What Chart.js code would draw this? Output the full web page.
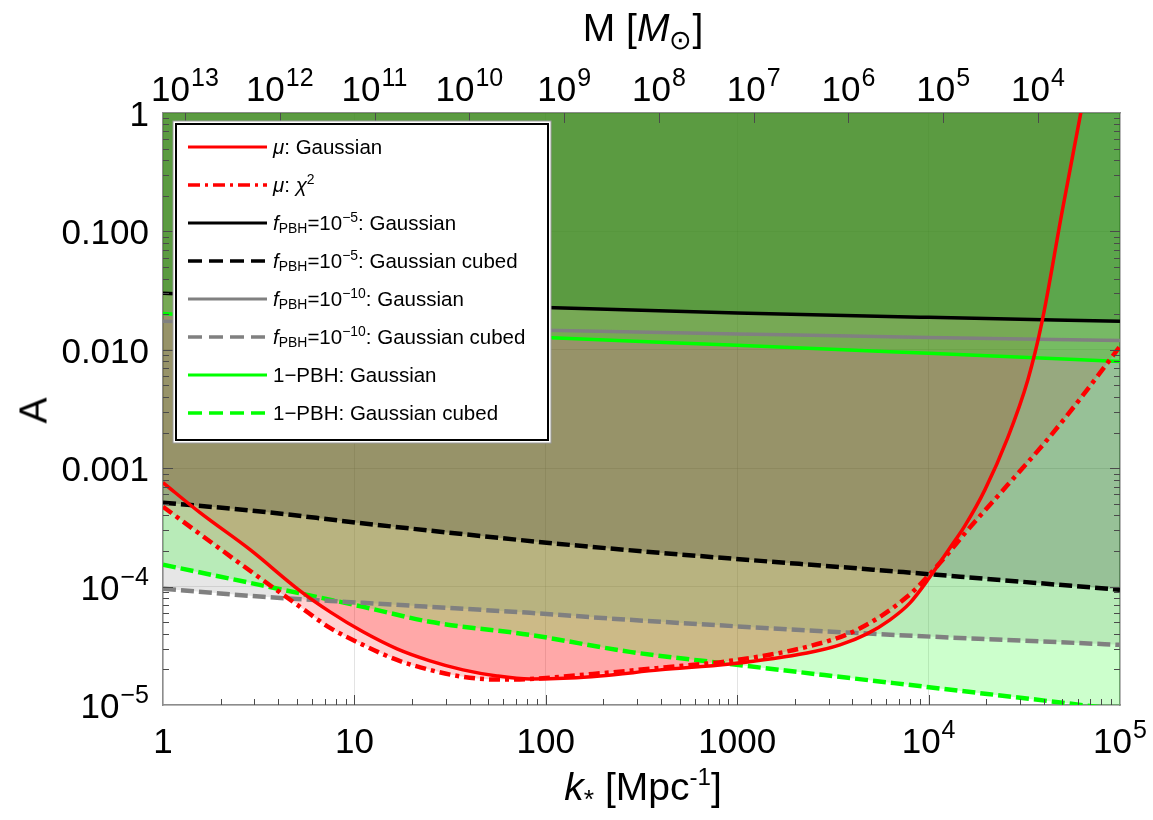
<!DOCTYPE html>
<html><head><meta charset="utf-8">
<script src="https://cdn.jsdelivr.net/npm/chart.js@4.4.1/dist/chart.umd.min.js"></script>
<style>
html,body{margin:0;padding:0;background:#fff;}
#wrap{position:relative;width:1153px;height:820px;overflow:hidden;font-family:"Liberation Sans",Arial,sans-serif;color:#000;}
#c{position:absolute;left:0;top:0;}
.ttl{position:absolute;font-size:39px;line-height:39px;white-space:nowrap;}
.ttl sub{font-size:0.68em;vertical-align:-0.3em;line-height:0;}
.ttl sup{font-size:0.62em;vertical-align:0.62em;line-height:0;}
#legend{position:absolute;left:175px;top:123px;width:374px;height:318px;box-sizing:border-box;background:#fff;border:2.5px solid #000;box-shadow:0 0 0 1.5px #fff,0 0 0 2.5px #9a9a9a;}
.row{position:absolute;left:0;height:24px;width:365px;}
.row svg{position:absolute;left:11px;top:9px;}
.row span{position:absolute;left:96px;top:0;font-size:20.5px;line-height:24px;white-space:nowrap;}
.row sub{font-size:0.68em;vertical-align:-0.25em;line-height:0;}
.row sup{font-size:0.68em;vertical-align:0.55em;line-height:0;}
</style></head>
<body>
<div id="wrap">
<canvas id="c" width="1153" height="820"></canvas>
<div class="ttl" id="tTop" style="left:643px;top:8px;transform:translateX(-50%);">M [<i>M</i><sub>⊙</sub>]</div>
<div class="ttl" id="tBot" style="left:643px;top:767px;transform:translateX(-50%);"><i>k</i><sub>*</sub> [Mpc<sup>-1</sup>]</div>
<div class="ttl" id="tLeft" style="left:19px;top:391px;width:28px;text-align:center;transform:rotate(-90deg);">A</div>
<div id="legend"></div>
</div>
<script>
// ---------------- data ----------------
const kTicks = [1, 10, 100, 1000, 1e4, 1e5];
const kTickLabels = ['1', '10', '100', '1000', '10^4', '10^5'];
const aTicks = [1e-5, 1e-4, 1e-3, 1e-2, 1e-1, 1];
const aTickLabels = ['10^\u22125', '10^\u22124', '0.001', '0.010', '0.100', '1'];
const mTicks = [1e13, 1e12, 1e11, 1e10, 1e9, 1e8, 1e7, 1e6, 1e5, 1e4];
const mTickLabels = ['10^13', '10^12', '10^11', '10^10', '10^9', '10^8', '10^7', '10^6', '10^5', '10^4'];
const mRange = [1365, 1.706e13];   // M at k = 1e5 and at k = 1

// mu distortion, Gaussian
const kMuGauss = [1, 1.561, 2.85, 5.20, 7.46, 11.09, 16.70, 24.83, 36.93, 55.6, 82.7, 133.8, 192, 395, 917, 2317, 3444, 4765, 6285, 7998, 10170, 12940, 15490, 19710, 25700, 33050, 39100, 49770, 62520, 70000];
const aMuGauss = [7.55e-4, 4.21e-4, 2.05e-4, 9.21e-5, 6.12e-5, 4.15e-5, 2.98e-5, 2.36e-5, 1.98e-5, 1.76e-5, 1.66e-5, 1.69e-5, 1.76e-5, 1.98e-5, 2.22e-5, 2.75e-5, 3.22e-5, 3.99e-5, 5.24e-5, 7.29e-5, 1.21e-4, 2.13e-4, 3.27e-4, 6.59e-4, 1.75e-3, 5.62e-3, 0.0171, 0.145, 1.02, 2.7];
// mu distortion, chi^2
const kMuChi2 = [1, 2.62, 5.20, 7.46, 11.09, 16.70, 24.83, 36.93, 55.6, 82.7, 176.5, 395, 917, 2317, 4227, 7710, 11480, 16070, 25700, 40570, 63270, 100000];
const aMuChi2 = [4.73e-4, 1.50e-4, 6.75e-5, 4.48e-5, 3.22e-5, 2.40e-5, 1.98e-5, 1.73e-5, 1.64e-5, 1.66e-5, 1.83e-5, 2.06e-5, 2.36e-5, 3.10e-5, 4.31e-5, 8.20e-5, 1.59e-4, 3.03e-4, 7.13e-4, 1.65e-3, 4.03e-3, 0.0107];
// solid PBH lines
const kSolid = [1, 10, 100, 1000, 1e4, 1e5];
const aF5Gauss = [0.0300, 0.0259, 0.0228, 0.0205, 0.0188, 0.0174];
const aF10Gauss = [0.0174, 0.0159, 0.0146, 0.0136, 0.0127, 0.0120];
const aOneGauss = [0.0203, 0.0158, 0.0127, 0.0109, 0.00933, 0.00798];
// dashed PBH lines (Gaussian cubed)
const kF5Cubed = [1, 3.33, 10.3, 101, 395, 5130, 1e5];
const aF5Cubed = [5.12e-4, 4.29e-4, 3.47e-4, 2.35e-4, 1.93e-4, 1.39e-4, 9.4e-5];
const kF10Cubed = [1, 3.33, 11.1, 82.7, 275, 5130, 1e5];
const aF10Cubed = [9.58e-5, 8.20e-5, 7.29e-5, 6.0e-5, 5.24e-5, 3.99e-5, 3.22e-5];
const kOneCubed = [1, 3.33, 11.1, 24.8, 82.7, 275, 917, 9800, 69700, 1e5];
const aOneCubed = [1.53e-4, 1.02e-4, 6.75e-5, 5.04e-5, 3.91e-5, 2.81e-5, 2.22e-5, 1.42e-5, 9.8e-6, 9.1e-6];

const legendLabels = [
  '<i>μ</i>: Gaussian',
  '<i>μ</i>: <i>χ</i><sup>2</sup>',
  '<i>f</i><sub>PBH</sub>=10<sup>−5</sup>: Gaussian',
  '<i>f</i><sub>PBH</sub>=10<sup>−5</sup>: Gaussian cubed',
  '<i>f</i><sub>PBH</sub>=10<sup>−10</sup>: Gaussian',
  '<i>f</i><sub>PBH</sub>=10<sup>−10</sup>: Gaussian cubed',
  '1−PBH: Gaussian',
  '1−PBH: Gaussian cubed'
];

// ---------------- helpers ----------------
const pts = (ks, as) => ks.map((k, i) => ({x: k, y: as[i]}));
const RED = '#ff0000', BLK = '#000000', GRY = '#808080', GRN = '#00ff00';
const DASH = [13, 5], DASHDOT = [11, 5, 4, 5];

function lineDS(label, data, color, width, dash) {
  return {label, data, borderColor: color, borderWidth: width, borderDash: dash || [], fill: false,
          pointRadius: 0, cubicInterpolationMode: 'monotone'};
}
function fillDS(data, color) {
  return {label: '', data, borderColor: 'rgba(0,0,0,0)', borderWidth: 0, backgroundColor: color,
          fill: 'end', pointRadius: 0, cubicInterpolationMode: 'monotone'};
}

const datasets = [
  // lines (index 0 drawn on top)
  lineDS('μ: Gaussian', pts(kMuGauss, aMuGauss), RED, 3.5),
  lineDS('μ: χ2', pts(kMuChi2, aMuChi2), RED, 4.5, DASHDOT),
  lineDS('fPBH=1e-5: Gaussian', pts(kSolid, aF5Gauss), BLK, 3.5),
  lineDS('fPBH=1e-5: Gaussian cubed', pts(kF5Cubed, aF5Cubed), BLK, 4.5, DASH),
  lineDS('fPBH=1e-10: Gaussian', pts(kSolid, aF10Gauss), GRY, 3.5),
  lineDS('fPBH=1e-10: Gaussian cubed', pts(kF10Cubed, aF10Cubed), GRY, 4.5, DASH),
  lineDS('1-PBH: Gaussian', pts(kSolid, aOneGauss), GRN, 3.5),
  lineDS('1-PBH: Gaussian cubed', pts(kOneCubed, aOneCubed), GRN, 4.5, DASH),
  // excluded regions (lower index = painted later)
  fillDS(pts(kSolid, aF5Gauss), 'rgba(40,130,30,0.35)'),
  fillDS(pts(kSolid, aF10Gauss), 'rgba(128,128,128,0.06)'),
  fillDS(pts(kSolid, aOneGauss), 'rgba(0,255,0,0.22)'),
  fillDS(pts(kF5Cubed, aF5Cubed), 'rgba(0,0,0,0.18)'),
  fillDS(pts(kOneCubed, aOneCubed), 'rgba(0,255,0,0.2)'),
  fillDS(pts(kF10Cubed, aF10Cubed), 'rgba(128,128,128,0.2)'),
  fillDS(pts(kMuGauss, aMuGauss), 'rgba(255,0,0,0.2)'),
  fillDS(pts(kMuChi2, aMuChi2), 'rgba(255,0,0,0.18)')
];

// ---------------- axis decoration plugin ----------------
const FONT = '"Liberation Sans", Arial, sans-serif';
const BASE_PX = 35, EXP_PX = 25, EXP_RISE = 15;
function drawPow(ctx, label, x, y, align) {
  const parts = label.split('^');
  const base = parts[0], exp = parts[1];
  ctx.font = BASE_PX + 'px ' + FONT;
  const wb = ctx.measureText(base).width;
  let we = 0;
  if (exp) { ctx.font = EXP_PX + 'px ' + FONT; we = ctx.measureText(exp).width + 1; }
  const x0 = align === 'center' ? x - (wb + we) / 2 : x - (wb + we);
  ctx.textAlign = 'left'; ctx.textBaseline = 'alphabetic'; ctx.fillStyle = '#000';
  ctx.font = BASE_PX + 'px ' + FONT; ctx.fillText(base, x0, y);
  if (exp) { ctx.font = EXP_PX + 'px ' + FONT; ctx.fillText(exp, x0 + wb + 1, y - EXP_RISE); }
}
const axisDecor = {
  id: 'axisDecor',
  afterDraw(chart) {
    const ctx = chart.ctx, a = chart.chartArea;
    const sx = chart.scales.x, sy = chart.scales.y, sm = chart.scales.x2;
    ctx.save();
    // inner tick marks
    ctx.strokeStyle = '#4a4a4a'; ctx.lineWidth = 1;
    ctx.beginPath();
    for (let d = 0; d < 5; d++) {
      for (let m = 1; m < 10; m++) {
        const v = m * Math.pow(10, d);
        const px = Math.round(sx.getPixelForValue(v)) + 0.5;
        const len = m === 1 ? 10 : 6;
        if (m > 1 || d > 0) { ctx.moveTo(px, a.bottom); ctx.lineTo(px, a.bottom - len); }
      }
    }
    for (let d = -5; d < 0; d++) {
      for (let m = 1; m < 10; m++) {
        const v = m * Math.pow(10, d);
        const py = Math.round(sy.getPixelForValue(v)) + 0.5;
        const len = m === 1 ? 10 : 6;
        if (m > 1 || d > -5) {
          ctx.moveTo(a.left, py); ctx.lineTo(a.left + len, py);
          ctx.moveTo(a.right, py); ctx.lineTo(a.right - len, py);
        }
      }
    }
    mTicks.forEach(v => {
      const px = Math.round(sm.getPixelForValue(v)) + 0.5;
      ctx.moveTo(px, a.top); ctx.lineTo(px, a.top + 10);
    });
    ctx.stroke();
    // tick labels
    kTicks.forEach((v, i) => drawPow(ctx, kTickLabels[i], sx.getPixelForValue(v), a.bottom + 48, 'center'));
    aTicks.forEach((v, i) => drawPow(ctx, aTickLabels[i], a.left - 14, sy.getPixelForValue(v) + 13, 'right'));
    mTicks.forEach((v, i) => drawPow(ctx, mTickLabels[i], sm.getPixelForValue(v), a.top - 12, 'center'));
    ctx.restore();
  }
};

const gridCol = 'rgba(0,0,0,0.11)';
const borderOpt = {display: true, color: '#8c8c8c', width: 1.5};
new Chart(document.getElementById('c'), {
  type: 'line',
  data: {datasets},
  options: {
    responsive: false, animation: false, devicePixelRatio: 1,
    layout: {padding: 0},
    plugins: {legend: {display: false}, tooltip: {enabled: false},
              filler: {drawTime: 'beforeDatasetsDraw', propagate: false}},
    scales: {
      x: {type: 'logarithmic', position: 'bottom', min: 1, max: 1e5,
          afterBuildTicks: s => { s.ticks = kTicks.map(v => ({value: v})); },
          ticks: {display: false}, grid: {color: gridCol, drawTicks: false}, border: borderOpt,
          afterFit: s => { s.height = 115; }},
      x2: {type: 'logarithmic', position: 'top', reverse: true, min: mRange[0], max: mRange[1],
           afterBuildTicks: s => { s.ticks = mTicks.map(v => ({value: v})); },
           ticks: {display: false}, grid: {drawOnChartArea: false, drawTicks: false}, border: borderOpt,
           afterFit: s => { s.height = 113; }},
      y: {type: 'logarithmic', position: 'left', min: 1e-5, max: 1,
          afterBuildTicks: s => { s.ticks = aTicks.map(v => ({value: v})); },
          ticks: {display: false}, grid: {color: gridCol, drawTicks: false}, border: borderOpt,
          afterFit: s => { s.width = 163; }},
      y2: {type: 'logarithmic', position: 'right', min: 1e-5, max: 1,
           afterBuildTicks: s => { s.ticks = aTicks.map(v => ({value: v})); },
           ticks: {display: false}, grid: {drawOnChartArea: false, drawTicks: false}, border: borderOpt,
           afterFit: s => { s.width = 33; }}
    }
  },
  plugins: [axisDecor]
});

// ---------------- HTML legend ----------------
const legendStyles = [
  [RED, 3, ''], [RED, 3.5, '12 5 3 5'], [BLK, 3, ''], [BLK, 3.5, '14 7'],
  [GRY, 3, ''], [GRY, 3.5, '14 7'], [GRN, 3, ''], [GRN, 3.5, '14 7']
];
const leg = document.getElementById('legend');
legendLabels.forEach((txt, i) => {
  const [c, w, d] = legendStyles[i];
  const row = document.createElement('div');
  row.className = 'row';
  row.style.top = (9.8 + 38 * i) + 'px';
  row.innerHTML = '<svg width="80" height="6"><line x1="0" y1="3" x2="79" y2="3" stroke="' + c +
    '" stroke-width="' + w + '"' + (d ? ' stroke-dasharray="' + d + '"' : '') + '/></svg><span>' + txt + '</span>';
  leg.appendChild(row);
});
</script>
</body></html>
